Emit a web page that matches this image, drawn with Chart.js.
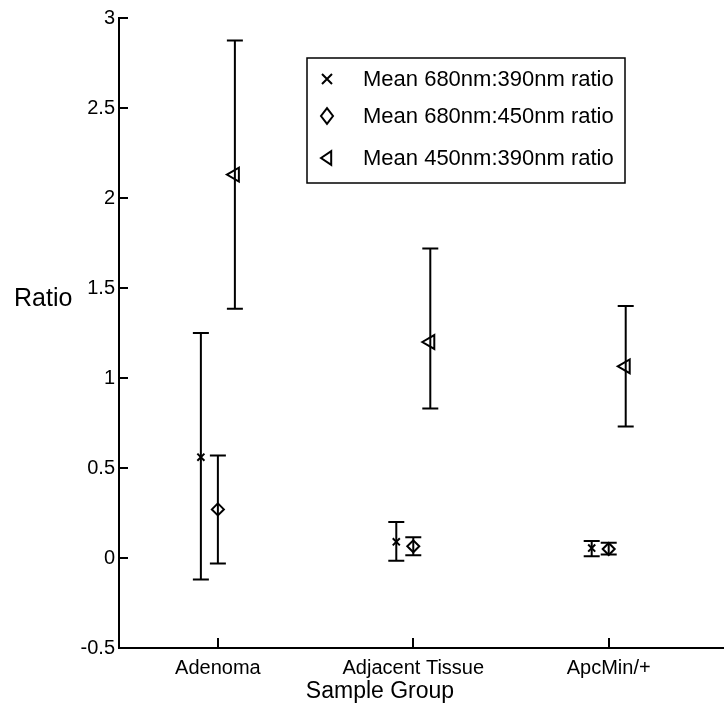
<!DOCTYPE html>
<html>
<head>
<meta charset="utf-8">
<script src="https://cdn.jsdelivr.net/npm/chart.js@4/dist/chart.umd.min.js"></script>
<style>
  html, body { margin: 0; padding: 0; background: #fff; }
  #chart { display: block; }
</style>
</head>
<body>
<canvas id="chart" width="724" height="727"></canvas>
<script>
  // categories and series
  const groups = ['Adenoma', 'Adjacent Tissue', 'ApcMin/+'];
  const seriesNames = ['Mean 680nm:390nm ratio', 'Mean 680nm:450nm ratio', 'Mean 450nm:390nm ratio'];

  const mean680_390 = [0.56, 0.09, 0.055];
  const low680_390 = [-0.12, -0.015, 0.01];
  const high680_390 = [1.25, 0.2, 0.095];

  const mean680_450 = [0.27, 0.065, 0.05];
  const low680_450 = [-0.03, 0.015, 0.02];
  const high680_450 = [0.57, 0.115, 0.085];

  const mean450_390 = [2.13, 1.2, 1.065];
  const low450_390 = [1.385, 0.83, 0.73];
  const high450_390 = [2.875, 1.72, 1.4];

  const yTicks = [-0.5, 0, 0.5, 1, 1.5, 2, 2.5, 3];

  const FONT = '"Liberation Sans", Arial, Helvetica, sans-serif';
  const SHIFT = 0.087; // horizontal offset of the side series inside a group

  function points(values, shift) {
    return values.map(function (v, i) { return { x: i + 1 + shift, y: v }; });
  }

  function drawSymbol(ctx, style, x, y, r) {
    ctx.beginPath();
    if (style === 'crossRot') {
      ctx.moveTo(x - r, y - r); ctx.lineTo(x + r, y + r);
      ctx.moveTo(x - r, y + r); ctx.lineTo(x + r, y - r);
    } else if (style === 'rectRot') {
      ctx.moveTo(x, y - r * 1.3); ctx.lineTo(x + r, y);
      ctx.lineTo(x, y + r * 1.3); ctx.lineTo(x - r, y);
      ctx.closePath();
    } else {
      ctx.moveTo(x - r, y); ctx.lineTo(x + r * 0.7, y - r * 1.15);
      ctx.lineTo(x + r * 0.7, y + r * 1.15);
      ctx.closePath();
    }
    ctx.stroke();
  }

  const decor = {
    id: 'decor',
    beforeDatasetsDraw(chart) {
      const ctx = chart.ctx;
      const yScale = chart.scales.y;
      ctx.save();
      ctx.strokeStyle = '#000';
      ctx.lineWidth = 2;
      chart.data.datasets.forEach(function (ds, di) {
        const meta = chart.getDatasetMeta(di);
        meta.data.forEach(function (pt, i) {
          const yl = yScale.getPixelForValue(ds.errLow[i]);
          const yh = yScale.getPixelForValue(ds.errHigh[i]);
          ctx.beginPath();
          ctx.moveTo(pt.x, yl); ctx.lineTo(pt.x, yh);
          ctx.moveTo(pt.x - 8, yl); ctx.lineTo(pt.x + 8, yl);
          ctx.moveTo(pt.x - 8, yh); ctx.lineTo(pt.x + 8, yh);
          ctx.stroke();
        });
      });
      ctx.restore();
    },
    afterDraw(chart) {
      const ctx = chart.ctx;
      const area = chart.chartArea;
      const xs = chart.scales.x, ys = chart.scales.y;
      ctx.save();
      ctx.strokeStyle = '#000';
      ctx.fillStyle = '#000';
      ctx.lineWidth = 2;

      // tick marks point inward
      ys.ticks.forEach(function (t) {
        const py = Math.round(ys.getPixelForValue(t.value));
        ctx.beginPath();
        ctx.moveTo(area.left, py); ctx.lineTo(area.left + 9, py);
        ctx.stroke();
      });
      xs.ticks.forEach(function (t) {
        const px = Math.round(xs.getPixelForValue(t.value));
        ctx.beginPath();
        ctx.moveTo(px, area.bottom); ctx.lineTo(px, area.bottom - 10);
        ctx.stroke();
      });

      // axis titles
      ctx.textBaseline = 'alphabetic';
      ctx.textAlign = 'left';
      ctx.font = '25px ' + FONT;
      ctx.fillText('Ratio', 14, 306);
      ctx.textAlign = 'center';
      ctx.font = '23px ' + FONT;
      ctx.fillText('Sample Group', 380, 698);

      // legend box
      const box = { x: 307, y: 58, w: 318, h: 125 };
      ctx.lineWidth = 1.5;
      ctx.strokeRect(box.x, box.y, box.w, box.h);
      const rows = [79, 116, 158];
      const styles = ['crossRot', 'rectRot', 'triangle'];
      ctx.font = '22px ' + FONT;
      ctx.textAlign = 'left';
      ctx.textBaseline = 'middle';
      ctx.lineWidth = 2;
      rows.forEach(function (ry, i) {
        drawSymbol(ctx, styles[i], 327, ry, i === 0 ? 5 : 6);
        ctx.fillText(seriesNames[i], 363, ry + 1);
      });
      ctx.restore();
    }
  };

  const common = {
    showLine: false,
    borderColor: '#000',
    backgroundColor: 'rgba(0,0,0,0)',
    pointBorderColor: '#000',
    pointBackgroundColor: 'rgba(0,0,0,0)',
    pointBorderWidth: 2,
    pointHoverRadius: 6
  };

  new Chart(document.getElementById('chart'), {
    type: 'scatter',
    data: {
      datasets: [
        Object.assign({}, common, {
          label: seriesNames[0],
          data: points(mean680_390, -SHIFT),
          errLow: low680_390, errHigh: high680_390,
          pointStyle: 'crossRot', pointRadius: 5
        }),
        Object.assign({}, common, {
          label: seriesNames[1],
          data: points(mean680_450, 0),
          errLow: low680_450, errHigh: high680_450,
          pointStyle: 'rectRot', pointRadius: 6
        }),
        Object.assign({}, common, {
          label: seriesNames[2],
          data: points(mean450_390, SHIFT),
          errLow: low450_390, errHigh: high450_390,
          pointStyle: 'triangle', pointRadius: 8, pointRotation: -90
        })
      ]
    },
    options: {
      responsive: false,
      animation: false,
      devicePixelRatio: 1,
      layout: { autoPadding: false, padding: { left: 0, top: 18, right: 0, bottom: 0 } },
      plugins: {
        legend: { display: false },
        tooltip: { enabled: false }
      },
      scales: {
        x: {
          type: 'linear',
          min: 0.494,
          max: 3.59,
          afterBuildTicks: function (scale) {
            scale.ticks = groups.map(function (g, i) { return { value: i + 1 }; });
          },
          afterFit: function (scale) {
            scale.height = 79;
            scale.paddingLeft = 0;
            scale.paddingRight = 0;
          },
          ticks: {
            color: '#000',
            font: { family: FONT, size: 20 },
            padding: 8,
            maxRotation: 0,
            callback: function (v) { return groups[Math.round(v) - 1]; }
          },
          grid: { display: true, drawOnChartArea: false, drawTicks: false },
          border: { display: true, color: '#000', width: 2 }
        },
        y: {
          min: -0.5,
          max: 3,
          afterBuildTicks: function (scale) {
            scale.ticks = yTicks.map(function (v) { return { value: v }; });
          },
          afterFit: function (scale) {
            scale.width = 119;
            scale.paddingTop = 0;
            scale.paddingBottom = 0;
          },
          ticks: {
            color: '#000',
            font: { family: FONT, size: 20 },
            padding: 4,
            callback: function (v) { return String(+v.toFixed(1)); }
          },
          grid: { display: true, drawOnChartArea: false, drawTicks: false },
          border: { display: true, color: '#000', width: 2 }
        }
      }
    },
    plugins: [decor]
  });
</script>
</body>
</html>
